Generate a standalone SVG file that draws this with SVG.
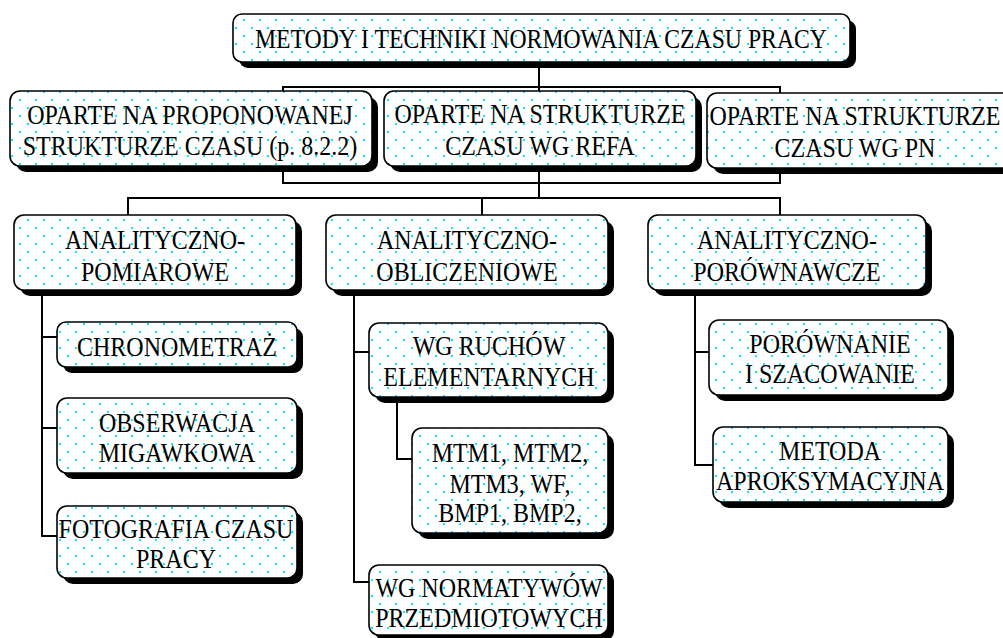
<svg xmlns="http://www.w3.org/2000/svg" width="1003" height="638" viewBox="0 0 1003 638">
<defs>
<pattern id="dots" x="0" y="0" width="16" height="16" patternUnits="userSpaceOnUse">
<rect width="16" height="16" fill="#fff"/>
<rect x="3" y="3" width="2" height="2" fill="#00f0ff"/>
<rect x="11" y="11" width="2" height="2" fill="#00f0ff"/>
</pattern>
<style>
.sh{fill:#000}
.bx{fill:url(#dots);stroke:#000;stroke-width:1.6}
.t{font-family:"Liberation Serif","Times New Roman",serif;font-size:24px;fill:#000;text-anchor:middle}
.c{fill:none;stroke:#000;stroke-width:2}
</style>
</defs>
<rect width="1003" height="638" fill="#fff"/>
<g id="connectors">
<path class="c" d="M539 62V91M283 91V87H780V94"/>
<path class="c" d="M283 171V183H780V173M539 171V198M128 215V198H780V215M482 198V215"/>
<path class="c" d="M42 295V536H57M42 337H57M42 428H57"/>
<path class="c" d="M354 295V582H369M354 352H369"/>
<path class="c" d="M397 402V459H412"/>
<path class="c" d="M695 295V465H713M695 352H709"/>
</g>
<g id="n-top">
<rect class="sh" x="239" y="20" width="617" height="48" rx="9"/>
<rect class="bx" x="233" y="14" width="617" height="48" rx="9"/>
<text class="t" x="541" transform="translate(0 48) scale(1 1.14)" textLength="572" lengthAdjust="spacingAndGlyphs">METODY I TECHNIKI NORMOWANIA CZASU PRACY</text>
</g>
<g id="n-prop">
<rect class="sh" x="16" y="97" width="362" height="75" rx="10"/>
<rect class="bx" x="10" y="91" width="362" height="75" rx="10"/>
<text class="t" x="190" transform="translate(0 124) scale(1 1.1)">OPARTE NA PROPONOWANEJ</text>
<text class="t" x="190" transform="translate(0 155) scale(1 1.1)">STRUKTURZE CZASU (p. 8.2.2)</text>
</g>
<g id="n-refa">
<rect class="sh" x="390" y="97" width="312" height="75" rx="10"/>
<rect class="bx" x="384" y="91" width="312" height="75" rx="10"/>
<text class="t" x="540" transform="translate(0 123) scale(1 1.1)">OPARTE NA STRUKTURZE</text>
<text class="t" x="540" transform="translate(0 155) scale(1 1.1)">CZASU WG REFA</text>
</g>
<g id="n-pn">
<rect class="sh" x="713" y="99" width="310" height="75" rx="10"/>
<rect class="bx" x="707" y="93" width="310" height="75" rx="10"/>
<text class="t" x="855" transform="translate(0 125) scale(1 1.1)">OPARTE NA STRUKTURZE</text>
<text class="t" x="855" transform="translate(0 157) scale(1 1.1)">CZASU WG PN</text>
</g>
<g id="n-pom">
<rect class="sh" x="20" y="221" width="282" height="75" rx="10"/>
<rect class="bx" x="14" y="215" width="282" height="75" rx="10"/>
<text class="t" x="155" transform="translate(0 249) scale(1 1.1)">ANALITYCZNO-</text>
<text class="t" x="155" transform="translate(0 281) scale(1 1.1)">POMIAROWE</text>
</g>
<g id="n-obl">
<rect class="sh" x="332" y="221" width="282" height="75" rx="10"/>
<rect class="bx" x="326" y="215" width="282" height="75" rx="10"/>
<text class="t" x="467" transform="translate(0 249) scale(1 1.1)">ANALITYCZNO-</text>
<text class="t" x="467" transform="translate(0 281) scale(1 1.1)">OBLICZENIOWE</text>
</g>
<g id="n-por">
<rect class="sh" x="654" y="221" width="278" height="75" rx="10"/>
<rect class="bx" x="648" y="215" width="278" height="75" rx="10"/>
<text class="t" x="787" transform="translate(0 249) scale(1 1.1)">ANALITYCZNO-</text>
<text class="t" x="787" transform="translate(0 281) scale(1 1.1)">PORÓWNAWCZE</text>
</g>
<g id="n-chr">
<rect class="sh" x="63" y="328" width="240" height="45" rx="9"/>
<rect class="bx" x="57" y="322" width="240" height="45" rx="9"/>
<text class="t" x="177" transform="translate(0 356) scale(1 1.1)">CHRONOMETRAŻ</text>
</g>
<g id="n-obs">
<rect class="sh" x="63" y="404" width="240" height="75" rx="10"/>
<rect class="bx" x="57" y="398" width="240" height="75" rx="10"/>
<text class="t" x="177" transform="translate(0 432) scale(1 1.1)">OBSERWACJA</text>
<text class="t" x="177" transform="translate(0 462) scale(1 1.1)">MIGAWKOWA</text>
</g>
<g id="n-foto">
<rect class="sh" x="63" y="512" width="240" height="72" rx="10"/>
<rect class="bx" x="57" y="506" width="240" height="72" rx="10"/>
<text class="t" x="176" transform="translate(0 538) scale(1 1.1)">FOTOGRAFIA CZASU</text>
<text class="t" x="176" transform="translate(0 568) scale(1 1.1)">PRACY</text>
</g>
<g id="n-ruch">
<rect class="sh" x="375" y="329" width="239" height="74" rx="10"/>
<rect class="bx" x="369" y="323" width="239" height="74" rx="10"/>
<text class="t" x="489" transform="translate(0 355) scale(1 1.1)">WG RUCHÓW</text>
<text class="t" x="489" transform="translate(0 386) scale(1 1.1)">ELEMENTARNYCH</text>
</g>
<g id="n-mtm">
<rect class="sh" x="418" y="434" width="196" height="105" rx="10"/>
<rect class="bx" x="412" y="428" width="196" height="105" rx="10"/>
<text class="t" x="510" transform="translate(0 462) scale(1 1.1)">MTM1, MTM2,</text>
<text class="t" x="510" transform="translate(0 493) scale(1 1.1)">MTM3, WF,</text>
<text class="t" x="510" transform="translate(0 522) scale(1 1.1)">BMP1, BMP2,</text>
</g>
<g id="n-norm">
<rect class="sh" x="375" y="571" width="239" height="70" rx="10"/>
<rect class="bx" x="369" y="565" width="239" height="70" rx="10"/>
<text class="t" x="489" transform="translate(0 597) scale(1 1.1)">WG NORMATYWÓW</text>
<text class="t" x="489" transform="translate(0 627) scale(1 1.1)">PRZEDMIOTOWYCH</text>
</g>
<g id="n-szac">
<rect class="sh" x="715" y="326" width="239" height="75" rx="10"/>
<rect class="bx" x="709" y="320" width="239" height="75" rx="10"/>
<text class="t" x="830" transform="translate(0 353) scale(1 1.1)">PORÓWNANIE</text>
<text class="t" x="830" transform="translate(0 383) scale(1 1.1)">I SZACOWANIE</text>
</g>
<g id="n-aprok">
<rect class="sh" x="719" y="433" width="235" height="75" rx="10"/>
<rect class="bx" x="713" y="427" width="235" height="75" rx="10"/>
<text class="t" x="830" transform="translate(0 460) scale(1 1.1)">METODA</text>
<text class="t" x="830" transform="translate(0 490) scale(1 1.1)">APROKSYMACYJNA</text>
</g>
</svg>
